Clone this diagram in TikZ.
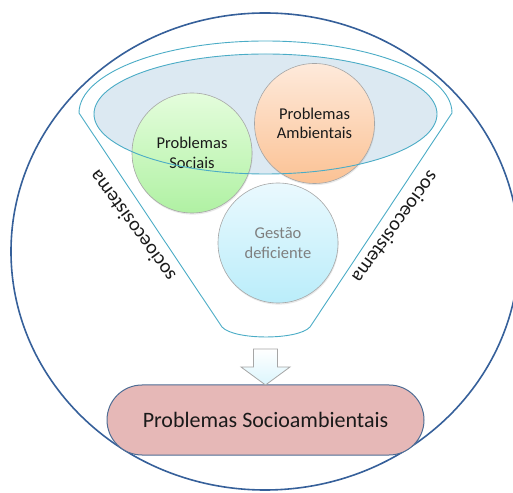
\documentclass[tikz,border=0pt]{standalone}
\usepackage{fontspec}
\setmainfont{Carlito}
\usetikzlibrary{shadows}
\definecolor{bigc}{HTML}{36609A}
\definecolor{funl}{HTML}{4BACC6}
\definecolor{innerfill}{HTML}{DCE9F2}
\definecolor{gtop}{HTML}{E4FDDC}
\definecolor{gbot}{HTML}{B0F1A3}
\definecolor{otop}{HTML}{FEEADB}
\definecolor{obot}{HTML}{FBC294}
\definecolor{btop}{HTML}{EAF9FE}
\definecolor{bbot}{HTML}{BAEDFA}
\definecolor{boxfill}{HTML}{E6B8B7}
\definecolor{boxline}{HTML}{4F6D94}
\definecolor{txt}{HTML}{1A1A1A}
\definecolor{graytxt}{HTML}{7F7F7F}
\tikzset{
  bubble/.style={circle, minimum size=120pt, inner sep=0pt, draw=black!35, line width=0.6pt,
    align=center, text=txt, font=\fontsize{16.5}{19.5}\selectfont,
    drop shadow={opacity=0.18, shadow xshift=0.6pt, shadow yshift=-1.6pt}},
  sidelabel/.style={font=\fontsize{20}{24}\selectfont, text=txt, inner sep=0pt},
  funnelline/.style={draw=funl, line width=0.9pt},
}
\begin{document}
\begin{tikzpicture}[x=1pt,y=1pt]
\useasboundingbox (0,0) rectangle (513,492);
\begin{scope}
\clip (0,0) rectangle (513,492);
\draw[bigc, line width=1.6pt] (265,240.5) ellipse [x radius=254, y radius=238.5];
\end{scope}
% funnel outline
\draw[funnelline] (79,379) arc[start angle=180, end angle=0, x radius=186.5, y radius=72]
  -- (310,165) .. controls (298,151.7) and (234,151.7) .. (222,165) -- cycle;
% inner ellipse fill
\fill[innerfill] (265.5,378) ellipse [x radius=171.5, y radius=60];
% circles
\node[bubble, top color=gtop, bottom color=gbot] (soc) at (192,339) {Problemas\\Sociais};
\node[bubble, top color=otop, bottom color=obot] (amb) at (314.5,368.5) {Problemas\\Ambientais};
\node[bubble, top color=btop, bottom color=bbot, text=graytxt] (ges) at (278,249) {Gestão\\deficiente};
% inner ellipse outline on top
\draw[funnelline] (265.5,378) ellipse [x radius=171.5, y radius=60];
% side labels
\node[sidelabel, rotate=126] (lsl) at (132.2,265.9) {socioecosistema};
\node[sidelabel, rotate=-126] (rsl) at (395.8,264.4) {socioecosistema};
% result box
\node[draw=boxline, fill=boxfill, line width=1pt, rounded corners=35pt,
  minimum width=317pt, minimum height=70pt, text=txt,
  font=\fontsize{22}{26}\selectfont] (res) at (265.5,72) {Problemas Socioambientais};
% block arrow
\coordinate (tip) at (265.5,107);
\draw[draw=black!35, line width=0.8pt, top color=white, bottom color=btop!70!bbot]
  (253.5,143) -- (277.5,143) -- (277.5,125) -- (290,125) -- (tip) -- (241,125) -- (253.5,125) -- cycle;
\end{tikzpicture}
\end{document}
